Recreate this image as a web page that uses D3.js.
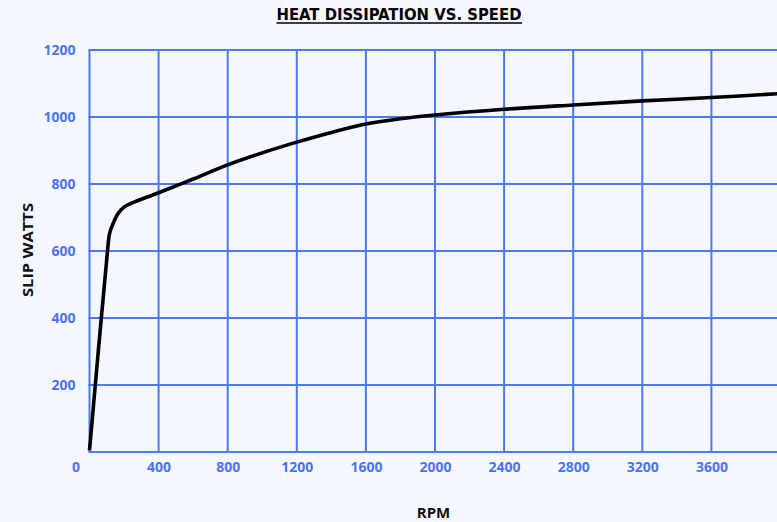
<!DOCTYPE html>
<html>
<head>
<meta charset="utf-8">
<script src="https://cdn.jsdelivr.net/npm/d3@7"></script>
<style>
  html, body { margin: 0; padding: 0; background: #f4f7fd; }
  svg { display: block; }
  .tick text { font-family: "Open Sans", sans-serif; font-weight: 700; font-size: 14px; fill: #4a74f0; }
</style>
</head>
<body>
<svg id="chart" width="777" height="522"></svg>
<script>
// curve
var rpm   = [0, 106, 116, 138, 167, 200, 244, 400, 600, 800, 1000, 1200, 1400, 1600, 1800, 2000, 2400, 2800, 3200, 3600, 4000];
var watts = [5, 610, 652, 684, 713, 731, 743, 774, 815, 857, 893, 925, 954, 979, 995, 1006, 1023, 1036, 1048, 1058, 1070];

var xTicks = [0, 400, 800, 1200, 1600, 2000, 2400, 2800, 3200, 3600];
var yTicks = [200, 400, 600, 800, 1000, 1200];
var yGrid  = [0, 200, 400, 600, 800, 1000, 1200];

var title = "HEAT DISSIPATION VS. SPEED";
var xLabel = "RPM";
var yLabel = "SLIP WATTS";

var data = rpm.map(function (d, i) { return { rpm: d, w: watts[i] }; });

var margin = { left: 89.5, top: 50, right: 0, bottom: 70 };
var svg = d3.select("#chart");

var x = d3.scaleLinear().domain([0, 4000]).range([margin.left, margin.left + 691]);
var y = d3.scaleLinear().domain([0, 1200]).range([452, margin.top]);

var grid = svg.append("g").attr("class", "grid");

grid.selectAll(".gx")
    .data(xTicks)
    .enter().append("line")
    .attr("x1", function (d) { return x(d); })
    .attr("x2", function (d) { return x(d); })
    .attr("y1", y(0))
    .attr("y2", y(1200))
    .style("stroke", "#4d79f5")
    .style("stroke-width", 2);

grid.selectAll(".gy")
    .data(yGrid)
    .enter().append("line")
    .attr("x1", x(0) - 1)
    .attr("x2", 777)
    .attr("y1", function (d) { return y(d); })
    .attr("y2", function (d) { return y(d); })
    .style("stroke", "#4d79f5")
    .style("stroke-width", 2);

// x axis labels
svg.append("g")
    .attr("transform", "translate(0," + y(0) + ")")
    .call(d3.axisBottom(x).tickValues(xTicks).tickFormat(d3.format("d")).tickSize(0).tickPadding(10))
    .call(function (g) { g.select(".domain").remove(); })
    .selectAll(".tick text")
    .attr("dx", function (d) { return d === 0 ? -14 : 0; });

// y axis labels
svg.append("g")
    .attr("transform", "translate(" + (x(0) - 14) + ",0)")
    .call(d3.axisLeft(y).tickValues(yTicks).tickFormat(d3.format("d")).tickSize(0).tickPadding(0))
    .call(function (g) { g.select(".domain").remove(); });

var line = d3.line()
    .x(function (d) { return x(d.rpm); })
    .y(function (d) { return y(d.w); })
    .curve(d3.curveCatmullRom.alpha(0.5));

svg.append("path")
    .datum(data)
    .attr("d", line)
    .style("fill", "none")
    .style("stroke", "#000")
    .style("stroke-width", 3.6)
    .style("stroke-linejoin", "round");

// title
svg.append("text")
    .attr("x", 399)
    .attr("y", 20)
    .attr("text-anchor", "middle")
    .attr("textLength", 245)
    .attr("lengthAdjust", "spacingAndGlyphs")
    .style("font-family", "'DejaVu Sans Condensed', 'Liberation Sans Narrow', sans-serif")
    .style("font-weight", 700)
    .style("font-size", "16.5px")
    .style("fill", "#000")
    .text(title);

svg.append("line")
    .attr("x1", 276.5).attr("x2", 522)
    .attr("y1", 23).attr("y2", 23)
    .style("stroke", "#000")
    .style("stroke-width", 1.6);

svg.append("text")
    .attr("x", 433.5)
    .attr("y", 518)
    .attr("text-anchor", "middle")
    .style("font-family", "'Open Sans', sans-serif")
    .style("font-weight", 700)
    .style("font-size", "15px")
    .style("fill", "#111")
    .text(xLabel);

svg.append("text")
    .attr("transform", "translate(32.5,250) rotate(-90)")
    .attr("text-anchor", "middle")
    .attr("textLength", 94)
    .attr("lengthAdjust", "spacingAndGlyphs")
    .style("font-family", "'Open Sans', sans-serif")
    .style("font-weight", 700)
    .style("font-size", "15px")
    .style("fill", "#111")
    .text(yLabel);
</script>
</body>
</html>
